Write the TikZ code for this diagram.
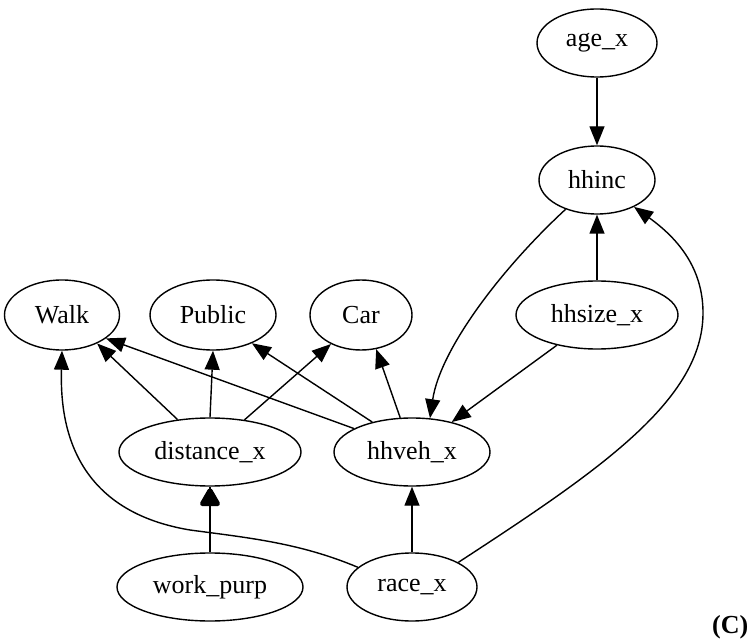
\documentclass[tikz,border=0pt]{standalone}
\usepackage{fontspec}
\setmainfont{Liberation Serif}
\usetikzlibrary{arrows.meta,shapes.geometric}
\begin{document}
\begin{tikzpicture}[x=1pt,y=-1pt,
  var/.style={draw,ellipse,line width=1.4pt,inner sep=0pt,font=\fontsize{26}{30}\selectfont},
  edge/.style={line width=1.4pt,-{Triangle[length=19pt,width=15pt]}},
  fathead/.style={fill=black,draw=black,line width=5pt,line join=round}]
\useasboundingbox (0,0) rectangle (752,644);
\node[var,minimum width=120pt,minimum height=68pt] (age) at (597,43) {age\_x};
\node[var,minimum width=116pt,minimum height=68pt] (hhinc) at (597,180) {hhinc};
\node[var,minimum width=115pt,minimum height=70pt] (walk) at (62,315) {Walk};
\node[var,minimum width=126pt,minimum height=70pt] (public) at (213,315) {Public};
\node[var,minimum width=102pt,minimum height=70pt] (car) at (361,315) {Car};
\node[var,minimum width=162pt,minimum height=68pt] (hhsize) at (597,315) {hhsize\_x};
\node[var,minimum width=182pt,minimum height=68pt] (dist) at (210,452) {distance\_x};
\node[var,minimum width=156pt,minimum height=68pt] (hhveh) at (412,452) {hhveh\_x};
\node[var,minimum width=186pt,minimum height=68pt] (work) at (210,587) {work\_purp};
\node[var,minimum width=130pt,minimum height=68pt] (race) at (412,587) {race\_x};
\node[anchor=west,inner sep=0pt,font=\fontsize{26}{30}\selectfont\bfseries] (lab) at (712,627) {(C)};

\draw[edge] (age) -- (hhinc);
\draw[edge] (hhsize) -- (hhinc);
\draw[edge] (hhinc.223) .. controls (500,270) and (440,350) .. (hhveh.62);
\draw[edge] (hhsize.217) -- (hhveh.37);
\draw[edge] (race.28) .. controls (600,470) and (703,400) .. (703,313)
  .. controls (703,270) and (680,240) .. (hhinc.324);
\draw[edge] (race) -- (hhveh);
\draw[edge] (race.160) .. controls (300,543) and (250,538) .. (190,530)
  .. controls (70,510) and (60,420) .. (walk.south);
\draw[edge] (dist.135) -- (walk.321);
\draw[edge] (dist.north) -- (public.south);
\draw[edge] (dist.43) -- (car.224);
\draw[edge] (hhveh.158) -- (walk.332);
\draw[edge] (hhveh.143) -- (public.324);
\draw[edge] (hhveh.109) -- (car.294);
\draw[line width=1.4pt] (work) -- (dist);
\path[fathead] ([yshift=-4pt]dist.south) -- ([xshift=7.5pt,yshift=-17pt]dist.south)
  -- ([xshift=-7.5pt,yshift=-17pt]dist.south) -- cycle;
\end{tikzpicture}
\end{document}
